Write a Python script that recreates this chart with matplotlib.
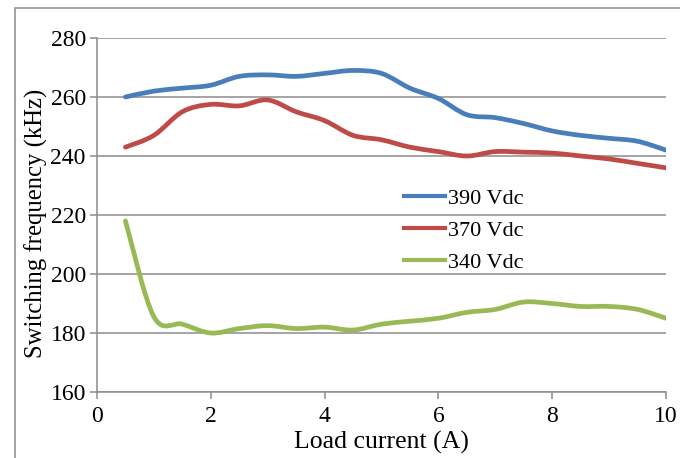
import numpy as np
import matplotlib
matplotlib.use("Agg")
import matplotlib.pyplot as plt
from matplotlib.path import Path
from matplotlib.patches import PathPatch, Rectangle
from matplotlib.lines import Line2D

# data
load_current = [0.5, 1.0, 1.5, 2.0, 2.5, 3.0, 3.5, 4.0, 4.5, 5.0,
                5.5, 6.0, 6.5, 7.0, 7.5, 8.0, 8.5, 9.0, 9.5, 10.0]
f_390 = [260, 262, 263, 264, 267, 267.5, 267, 268, 269, 268,
         263, 259.5, 254, 253, 251, 248.5, 247, 246, 245, 242]
f_370 = [243, 247, 255, 257.5, 257, 259, 255, 252, 247, 245.5,
         243, 241.5, 240, 241.5, 241.3, 241, 240, 239, 237.5, 236]
f_340 = [218, 185.5, 183, 180, 181.5, 182.5, 181.5, 182, 181, 183,
         184, 185, 187, 188, 190.5, 190, 189, 189, 188, 185]
labels = ["390 Vdc", "370 Vdc", "340 Vdc"]
colors = ["#4A7EBB", "#BE4B48", "#98B954"]

plt.rcParams['font.family'] = ['Liberation Serif', 'DejaVu Serif']


def smooth_path(x, y, t=1/6.):
	# excel style smoothed line: cubic bezier with catmull-rom tangents
	x = np.asarray(x, float)
	y = np.asarray(y, float)
	verts = [(x[0], y[0])]
	codes = [Path.MOVETO]
	n = len(x)
	for i in range(n - 1):
		p0 = (x[max(i-1, 0)], y[max(i-1, 0)])
		p1 = (x[i], y[i])
		p2 = (x[i+1], y[i+1])
		p3 = (x[min(i+2, n-1)], y[min(i+2, n-1)])
		c1 = (p1[0] + (p2[0]-p0[0])*t, p1[1] + (p2[1]-p0[1])*t)
		c2 = (p2[0] - (p3[0]-p1[0])*t, p2[1] - (p3[1]-p1[1])*t)
		verts += [c1, c2, p2]
		codes += [Path.CURVE4]*3
	return Path(verts, codes)


fig = plt.figure(figsize=(6.8, 4.58), dpi=100)
ax = fig.add_axes([0.1426, 0.1441, 0.8368, 0.7729])

for ys, c in zip([f_390, f_370, f_340], colors):
	ax.add_patch(PathPatch(smooth_path(load_current, ys), facecolor='none',
		edgecolor=c, lw=3.4, capstyle='round', joinstyle='round', zorder=3))

ax.set_xlim(0, 10)
ax.set_ylim(160, 280)
ax.set_xticks(np.arange(0, 11, 2))
ax.set_yticks(np.arange(160, 281, 20))
ax.yaxis.grid(True, color='#8c8c8c', lw=1.1)
ax.set_axisbelow(True)
for s in ['top', 'right']:
	ax.spines[s].set_visible(False)
for s in ['left', 'bottom']:
	ax.spines[s].set_color('#8c8c8c')
	ax.spines[s].set_linewidth(1.1)
ax.tick_params(direction='out', length=5, width=1.1, color='#8c8c8c',
	labelsize=17, pad=3)
ax.tick_params(axis='x', pad=5)
ax.set_xlabel("Load current (A)", fontsize=18.5, labelpad=3)
ax.set_ylabel("Switching frequency (kHz)", fontsize=17.8, labelpad=2, y=0.477)

handles = [Line2D([], [], color=c, lw=3) for c in colors]
ax.legend(handles, labels, loc='upper left', bbox_to_anchor=(0.54, 0.575),
	frameon=False, fontsize=16, handlelength=1.85, handletextpad=0.1,
	labelspacing=0.52, borderaxespad=0, borderpad=0)

# chart area border
fig.patches.append(Rectangle((15/680., -0.1), 1.2, 1 - 8/458. + 0.1,
	transform=fig.transFigure, fill=False, edgecolor='#8c8c8c', lw=1.1))

plt.savefig('out.png', dpi=100)
